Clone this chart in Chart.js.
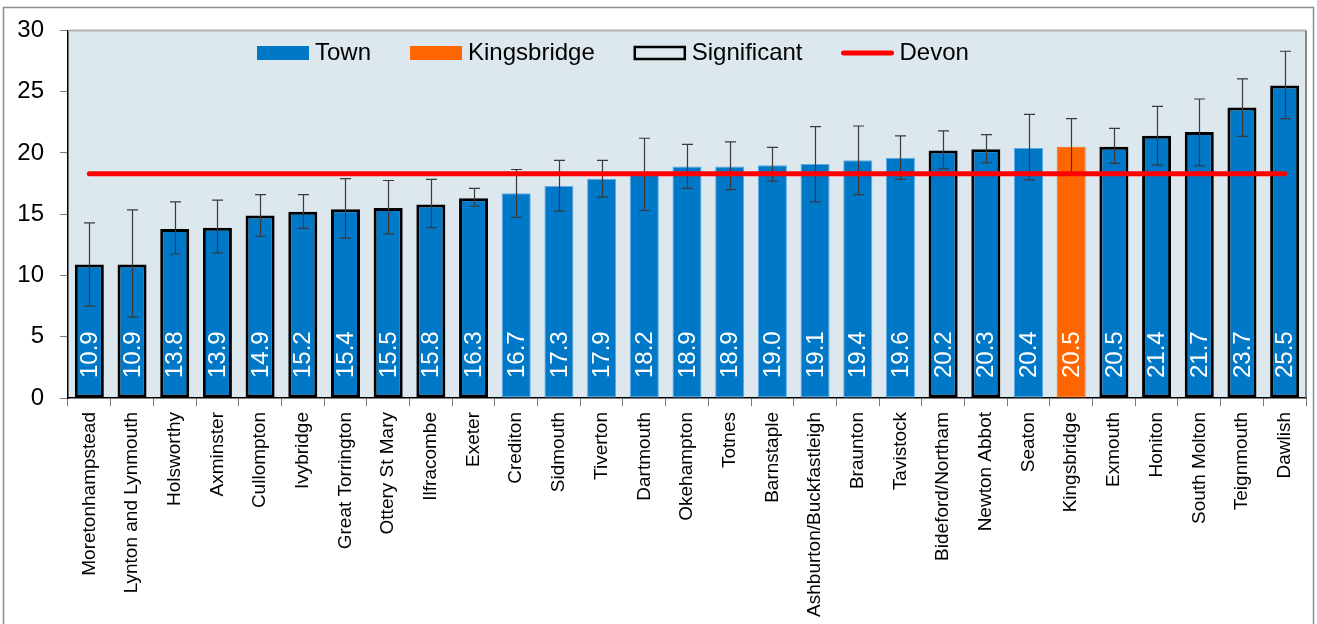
<!DOCTYPE html>
<html>
<head>
<meta charset="utf-8">
<script src="https://cdn.jsdelivr.net/npm/chart.js@4.4.1/dist/chart.umd.min.js"></script>
<style>
html,body{margin:0;padding:0;background:#ffffff;}
#wrap{position:relative;width:1317px;height:624px;overflow:hidden;}
</style>
</head>
<body>
<div id="wrap"><canvas id="c" width="1317" height="624"></canvas></div>
<script>
// ---- data ----
const towns = ["Moretonhampstead","Lynton and Lynmouth","Holsworthy","Axminster","Cullompton","Ivybridge","Great Torrington","Ottery St Mary","Ilfracombe","Exeter","Crediton","Sidmouth","Tiverton","Dartmouth","Okehampton","Totnes","Barnstaple","Ashburton/Buckfastleigh","Braunton","Tavistock","Bideford/Northam","Newton Abbot","Seaton","Kingsbridge","Exmouth","Honiton","South Molton","Teignmouth","Dawlish"];
const rates = [10.9,10.9,13.8,13.9,14.9,15.2,15.4,15.5,15.8,16.3,16.7,17.3,17.9,18.2,18.9,18.9,19.0,19.1,19.4,19.6,20.2,20.3,20.4,20.5,20.5,21.4,21.7,23.7,25.5];
const lowerCI = [7.5,6.6,11.75,11.85,13.2,13.85,13.05,13.4,13.9,15.65,14.75,15.25,16.4,15.3,17.1,17.0,17.7,16.0,16.6,17.85,18.7,19.2,17.8,18.3,19.15,19.0,18.95,21.35,22.8];
const upperCI = [14.3,15.35,16.0,16.15,16.6,16.6,17.9,17.75,17.85,17.1,18.65,19.4,19.4,21.2,20.7,20.9,20.45,22.15,22.2,21.4,21.8,21.5,23.15,22.8,22.0,23.8,24.4,26.05,28.3];
const significant = [true,true,true,true,true,true,true,true,true,true,false,false,false,false,false,false,false,false,false,false,true,true,false,false,true,true,true,true,true];
const devon = [18.3,18.3,18.3,18.3,18.3,18.3,18.3,18.3,18.3,18.3,18.3,18.3,18.3,18.3,18.3,18.3,18.3,18.3,18.3,18.3,18.3,18.3,18.3,18.3,18.3,18.3,18.3,18.3,18.3];
const highlightTown = "Kingsbridge";
const yTicks = [0,5,10,15,20,25,30];
const legendLabels = ["Town","Kingsbridge","Significant","Devon"];

// ---- styles ----
const FONT = '"Liberation Sans", Arial, Helvetica, sans-serif';
const BLUE = '#0078c8';
const ORANGE = '#ff6600';
const RED = '#ff0000';
const PLOT_BG = '#dde7ee';

const framePlugin = {
  id: 'frame',
  beforeDraw(chart) {
    const ctx = chart.ctx, a = chart.chartArea;
    ctx.save();
    ctx.fillStyle = '#ffffff';
    ctx.fillRect(0, 0, chart.width, chart.height);
    ctx.strokeStyle = '#8c8c8c';
    ctx.lineWidth = 1.5;
    ctx.strokeRect(3.5, 7.5, chart.width - 7, chart.height + 20);
    ctx.fillStyle = PLOT_BG;
    ctx.fillRect(a.left, a.top, a.right - a.left, a.bottom - a.top);
    ctx.restore();
  },
  afterDraw(chart) {
    const ctx = chart.ctx, a = chart.chartArea;
    ctx.save();
    ctx.lineWidth = 2;
    ctx.strokeStyle = '#b4b4b4';
    ctx.beginPath(); ctx.moveTo(a.left, a.top); ctx.lineTo(a.right, a.top); ctx.stroke();
    ctx.lineWidth = 1.5;
    ctx.strokeStyle = '#666666';
    ctx.beginPath(); ctx.moveTo(a.right, a.top); ctx.lineTo(a.right, a.bottom); ctx.stroke();
    // legend
    ctx.font = '24px ' + FONT;
    ctx.textBaseline = 'middle';
    ctx.textAlign = 'left';
    let x = 257;
    const cy = 53, bw = 52, bh = 14;
    legendLabels.forEach((lab, i) => {
      if (i === 0 || i === 1) {
        ctx.fillStyle = i === 0 ? BLUE : ORANGE;
        ctx.fillRect(x, cy - bh / 2, bw, bh);
      } else if (i === 2) {
        ctx.strokeStyle = '#000';
        ctx.lineWidth = 2.5;
        ctx.strokeRect(x + 1, cy - bh / 2 + 1, bw - 2, bh - 2);
      } else {
        ctx.strokeStyle = RED;
        ctx.lineWidth = 5;
        ctx.lineCap = 'round';
        ctx.beginPath(); ctx.moveTo(x + 2, cy); ctx.lineTo(x + bw - 2, cy); ctx.stroke();
      }
      ctx.fillStyle = '#000';
      ctx.fillText(lab, x + bw + 6, cy);
      x += bw + 6 + ctx.measureText(lab).width + 39;
    });
    ctx.restore();
  }
};

const barExtras = {
  id: 'barExtras',
  afterDatasetDraw(chart, args) {
    if (args.meta.type !== 'bar') return;
    const ctx = chart.ctx, ys = chart.scales.y;
    ctx.save();
    // error bars
    ctx.strokeStyle = '#3a3a3a';
    ctx.lineWidth = 1.2;
    args.meta.data.forEach((el, i) => {
      const yt = ys.getPixelForValue(upperCI[i]);
      const yb = ys.getPixelForValue(lowerCI[i]);
      const x = Math.round(el.x) + 0.5;
      ctx.beginPath();
      ctx.moveTo(x, yt); ctx.lineTo(x, yb);
      ctx.moveTo(x - 5.5, yt); ctx.lineTo(x + 5.5, yt);
      ctx.moveTo(x - 5.5, yb); ctx.lineTo(x + 5.5, yb);
      ctx.stroke();
    });
    // value labels
    ctx.fillStyle = '#ffffff';
    ctx.font = '24px ' + FONT;
    ctx.textBaseline = 'middle';
    ctx.textAlign = 'left';
    const base = ys.getPixelForValue(0);
    args.meta.data.forEach((el, i) => {
      ctx.save();
      ctx.translate(el.x + 1, base - 20);
      ctx.rotate(-Math.PI / 2);
      ctx.fillText(rates[i].toFixed(1), 0, 0);
      ctx.restore();
    });
    ctx.restore();
  }
};

new Chart(document.getElementById('c'), {
  data: {
    labels: towns,
    datasets: [
      {
        type: 'bar',
        label: 'Town',
        data: rates,
        order: 2,
        backgroundColor: towns.map(t => t === highlightTown ? ORANGE : BLUE),
        borderColor: significant.map((s, i) => s ? '#000000' : (towns[i] === highlightTown ? ORANGE : '#5ea9e2')),
        borderWidth: significant.map(s => s ? 3 : 1),
        borderSkipped: false,
        barPercentage: 0.68,
        categoryPercentage: 1.0
      },
      {
        type: 'line',
        label: 'Devon',
        data: devon,
        order: 1,
        borderColor: RED,
        borderWidth: 5,
        borderCapStyle: 'round',
        pointRadius: 0,
        fill: false
      }
    ]
  },
  options: {
    responsive: false,
    animation: false,
    events: [],
    layout: { padding: { top: 29, right: 11, left: 0, bottom: 0 } },
    plugins: { legend: { display: false }, tooltip: { enabled: false } },
    scales: {
      x: {
        offset: true,
        grid: { offset: true, drawOnChartArea: false, drawTicks: true, tickLength: 8, color: '#7a7a7a' },
        border: { display: true, color: '#000000', width: 1.5 },
        ticks: { minRotation: 90, maxRotation: 90, autoSkip: false, padding: 6, color: '#000000', font: { size: 19, family: FONT } },
        afterFit(s) { s.height = 226; }
      },
      y: {
        min: 0, max: 30,
        afterBuildTicks(s) { s.ticks = yTicks.map(v => ({ value: v })); },
        grid: { drawOnChartArea: false, drawTicks: true, tickLength: 8, color: '#7a7a7a' },
        border: { display: true, color: '#000000', width: 1.5 },
        ticks: { padding: 16, color: '#000000', font: { size: 24, family: FONT } },
        afterFit(s) { s.width = 68; }
      }
    }
  },
  plugins: [framePlugin, barExtras]
});
</script>
</body>
</html>
